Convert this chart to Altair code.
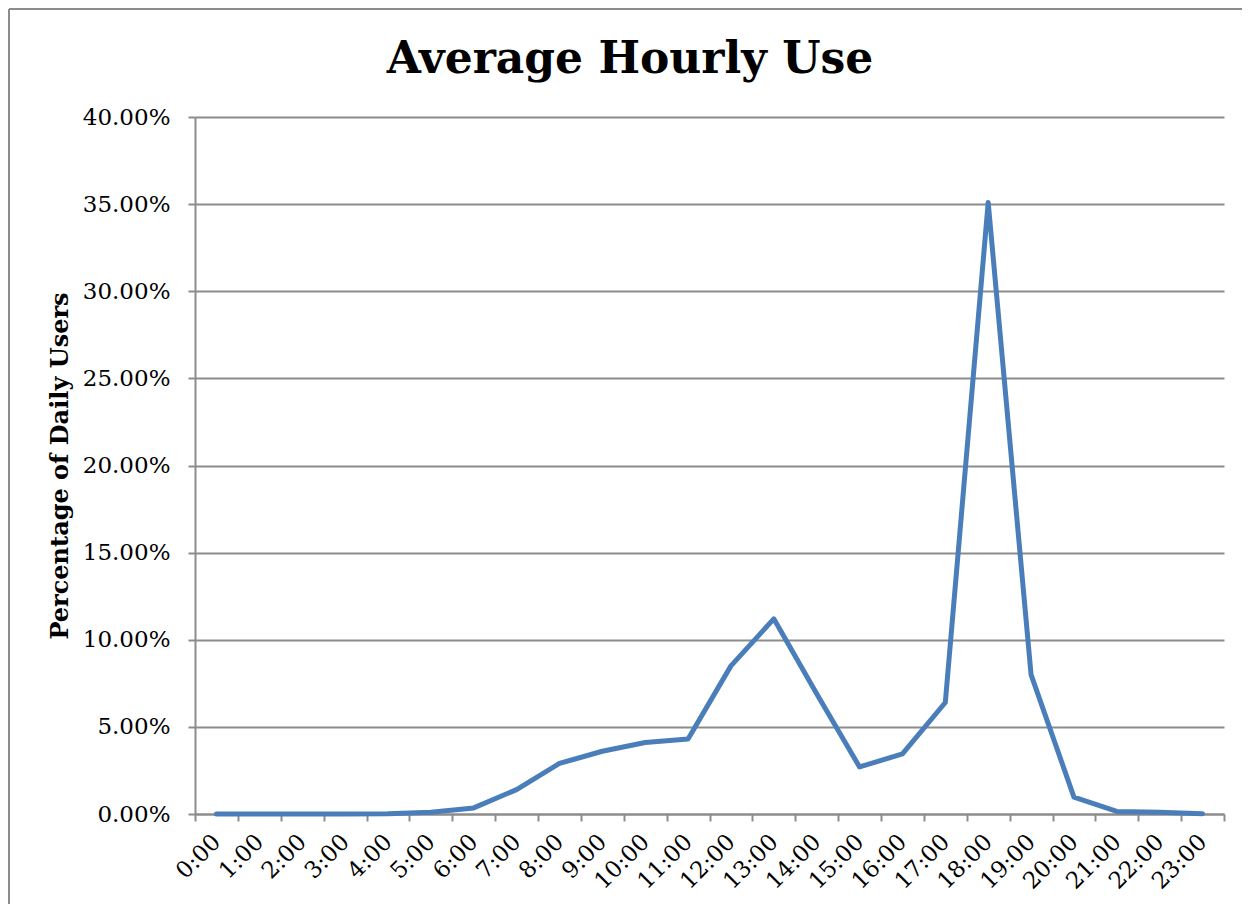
import altair as alt
import pandas as pd

hours = [f"{h}:00" for h in range(24)]
share = [0.0, 0.0, 0.0, 0.0, 0.0002, 0.001, 0.0035, 0.014, 0.029, 0.036, 0.041, 0.043,
         0.085, 0.112, 0.069, 0.027, 0.0345, 0.064, 0.351, 0.080, 0.0097, 0.0015, 0.001, 0.0002]
title_text = ["Average Hourly Use"]

df = pd.DataFrame({"hour": hours, "share": share})

FONT = "DejaVu Serif"
GRAY = "#8c8c8c"

line = alt.Chart(df).mark_line(color="#4a7ebb", strokeWidth=5, strokeJoin="round", strokeCap="round").encode(
    x=alt.X("hour:O", sort=hours, title=None,
            scale=alt.Scale(paddingInner=0, paddingOuter=0),
            axis=alt.Axis(labelAngle=-45, labelAlign="right", labelBaseline="middle",
                          labelFont=FONT, labelFontSize=23, labelColor="black",
                          labelPadding=17, tickBand="extent", tickSize=7, tickColor=GRAY,
                          tickWidth=2, domainColor=GRAY, domainWidth=2, grid=False)),
    y=alt.Y("share:Q", title="Percentage of Daily Users",
            scale=alt.Scale(domain=[0, 0.4], nice=False),
            axis=alt.Axis(values=[0, 0.05, 0.1, 0.15, 0.2, 0.25, 0.3, 0.35, 0.4], format=".2%",
                          labelFont=FONT, labelFontSize=23, labelColor="black", labelPadding=18,
                          titleFont=FONT, titleFontSize=24, titleFontWeight="bold",
                          titleColor="black", titlePadding=10,
                          tickSize=7, tickColor=GRAY, tickWidth=2,
                          domainColor=GRAY, domainWidth=2,
                          grid=True, gridColor=GRAY, gridWidth=2)),
)

one = pd.DataFrame({"k": [0]})
frame_top = alt.Chart(one).mark_rule(color=GRAY, strokeWidth=2, clip=False).encode(
    x=alt.value(-186), x2=alt.value(1047), y=alt.value(-108))
frame_left = alt.Chart(one).mark_rule(color=GRAY, strokeWidth=2, clip=False).encode(
    x=alt.value(-186), y=alt.value(-108), y2=alt.value(787))

title = alt.Chart(pd.DataFrame({"t": title_text})).mark_text(
    font=FONT, fontSize=44, fontWeight="bold", color="black",
    align="center", baseline="alphabetic"
).encode(text="t:N", x=alt.value(435), y=alt.value(-44))

chart = alt.layer(frame_top, frame_left, line, title).properties(
    width=1029, height=697,
    autosize=alt.AutoSizeParams(type="none"),
    padding={"left": 187, "top": 109, "right": 18, "bottom": 90},
).configure_view(stroke=None)

chart.save("out.html", embed_options={"renderer": "svg", "actions": False})
